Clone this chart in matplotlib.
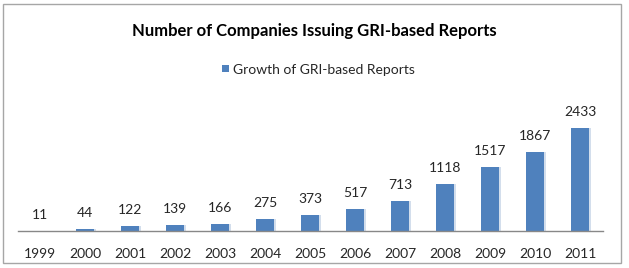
import matplotlib
matplotlib.use("Agg")
import matplotlib.pyplot as plt
from matplotlib.patches import Rectangle

years = ["1999", "2000", "2001", "2002", "2003", "2004", "2005", "2006", "2007", "2008", "2009", "2010", "2011"]
reports = [11, 44, 122, 139, 166, 275, 373, 517, 713, 1118, 1517, 1867, 2433]

plt.rcParams['font.family'] = ['Lato', 'DejaVu Sans']

W, H = 629, 268
fig = plt.figure(figsize=(W / 100, H / 100), dpi=100)
fig.patch.set_facecolor("white")

# outer border
fig.add_artist(Rectangle((3 / W, 5 / H), 618 / W, 259 / H, transform=fig.transFigure,
                         fill=False, edgecolor="#a6a6a6", linewidth=1.0))

ax = fig.add_axes([17.5 / W, (H - 231) / H, 585 / W, (231 - 104) / H])
x = range(len(years))
# subtle shadow
ax.bar([i + 0.05 for i in x], reports, width=0.38, color="#d3deec", zorder=1)
bars = ax.bar(x, reports, width=0.38, color="#4f81bd", zorder=2)
for i, v in zip(x, reports):
    ax.annotate(str(v), (i, v), xytext=(0, 11.5), textcoords="offset points",
                ha="center", va="center", fontsize=10, color="#262626")

ax.set_xlim(-0.5, len(years) - 0.5)
ax.set_ylim(0, 3000)
ax.set_xticks(list(x))
ax.set_xticklabels(years, fontsize=10, color="#262626")
ax.tick_params(axis="x", length=0, pad=12)
ax.set_yticks([])
for s in ["top", "right", "left"]:
    ax.spines[s].set_visible(False)
ax.spines["bottom"].set_color("#888888")
ax.spines["bottom"].set_linewidth(1.0)

fig.text(0.5, (H - 31) / H, "Number of Companies Issuing GRI-based Reports", ha="center", va="center",
         fontsize=12, fontweight="bold", color="black")
fig.add_artist(Rectangle((222 / W, (H - 72) / H), 7 / W, 7 / H, transform=fig.transFigure,
                         facecolor="#4f81bd", edgecolor="none"))
fig.text(233 / W, (H - 70) / H, "Growth of GRI-based Reports", ha="left", va="center",
         fontsize=10, color="#262626")

fig.savefig("out.png", dpi=100)
